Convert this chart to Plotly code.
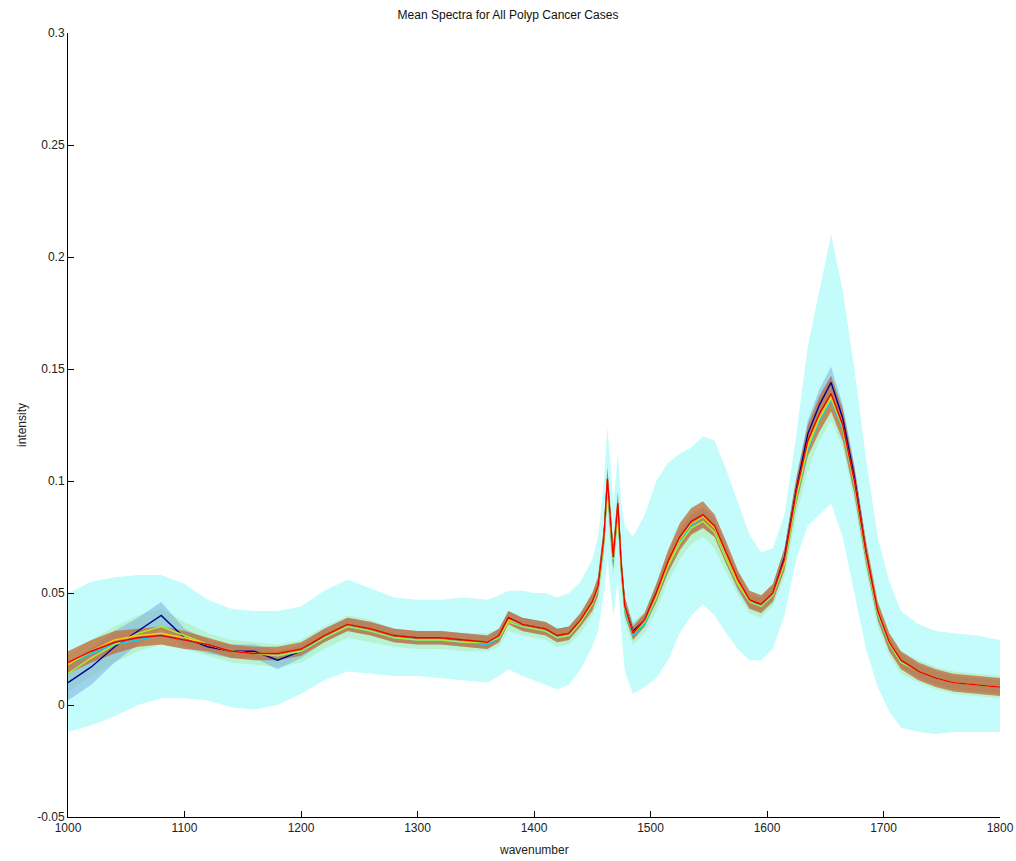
import plotly.graph_objects as go

WN = [1000, 1020, 1040, 1060, 1080, 1100, 1120, 1140, 1160, 1180, 1200, 1220, 1240, 1260, 1280,
      1300, 1320, 1340, 1360, 1370, 1378, 1390, 1400, 1410, 1420, 1430, 1440, 1450, 1455, 1460,
      1463, 1466, 1468, 1470, 1472, 1475, 1478, 1485, 1495, 1505, 1515, 1525, 1535, 1545, 1555,
      1565, 1575, 1585, 1595, 1605, 1615, 1625, 1635, 1645, 1655, 1665, 1675, 1685, 1695, 1705,
      1715, 1730, 1745, 1760, 1780, 1800]

RED = [0.019, 0.024, 0.028, 0.030, 0.031, 0.029, 0.027, 0.024, 0.023, 0.023, 0.025, 0.031, 0.036, 0.034, 0.031,
       0.030, 0.030, 0.029, 0.028, 0.031, 0.039, 0.036, 0.035, 0.034, 0.031, 0.032, 0.038, 0.046, 0.053, 0.075,
       0.101, 0.078, 0.066, 0.078, 0.090, 0.062, 0.044, 0.032, 0.038, 0.050, 0.064, 0.075, 0.082, 0.085, 0.080,
       0.068, 0.056, 0.047, 0.045, 0.050, 0.065, 0.095, 0.118, 0.130, 0.139, 0.125, 0.100, 0.068, 0.042, 0.028,
       0.020, 0.015, 0.012, 0.010, 0.009, 0.008]

DARKBLUE = [0.010, 0.017, 0.026, 0.033, 0.040, 0.030, 0.026, 0.024, 0.024, 0.020, 0.024, 0.031, 0.036, 0.034, 0.031,
            0.030, 0.030, 0.029, 0.028, 0.031, 0.039, 0.036, 0.035, 0.034, 0.031, 0.032, 0.038, 0.046, 0.053, 0.074,
            0.099, 0.077, 0.066, 0.077, 0.088, 0.061, 0.044, 0.033, 0.038, 0.050, 0.063, 0.074, 0.081, 0.084, 0.079,
            0.067, 0.055, 0.046, 0.045, 0.050, 0.066, 0.096, 0.121, 0.134, 0.144, 0.128, 0.102, 0.068, 0.041, 0.027,
            0.020, 0.015, 0.012, 0.010, 0.009, 0.008]

CYANLINE = [0.018, 0.023, 0.027, 0.029, 0.031, 0.029, 0.027, 0.024, 0.023, 0.022, 0.024, 0.030, 0.035, 0.033, 0.030,
            0.029, 0.029, 0.028, 0.027, 0.030, 0.038, 0.035, 0.034, 0.033, 0.030, 0.031, 0.037, 0.045, 0.052, 0.074,
            0.100, 0.076, 0.064, 0.077, 0.089, 0.060, 0.042, 0.031, 0.036, 0.048, 0.062, 0.073, 0.080, 0.084, 0.079,
            0.066, 0.054, 0.046, 0.044, 0.049, 0.063, 0.092, 0.114, 0.127, 0.136, 0.123, 0.098, 0.066, 0.040, 0.027,
            0.019, 0.015, 0.012, 0.010, 0.009, 0.008]

GREEN = [0.014, 0.021, 0.027, 0.032, 0.035, 0.031, 0.027, 0.024, 0.023, 0.022, 0.024, 0.030, 0.035, 0.033, 0.030,
         0.029, 0.029, 0.028, 0.028, 0.030, 0.037, 0.035, 0.034, 0.033, 0.030, 0.031, 0.037, 0.045, 0.052, 0.073,
         0.098, 0.076, 0.065, 0.076, 0.087, 0.060, 0.043, 0.032, 0.037, 0.048, 0.062, 0.072, 0.079, 0.082, 0.077,
         0.065, 0.054, 0.046, 0.044, 0.049, 0.063, 0.092, 0.115, 0.128, 0.137, 0.124, 0.099, 0.067, 0.041, 0.027,
         0.019, 0.015, 0.012, 0.010, 0.009, 0.008]

YELLOW = [0.018, 0.024, 0.029, 0.031, 0.032, 0.030, 0.027, 0.024, 0.023, 0.023, 0.025, 0.031, 0.036, 0.034, 0.031,
          0.030, 0.030, 0.029, 0.028, 0.031, 0.038, 0.036, 0.035, 0.034, 0.031, 0.032, 0.038, 0.046, 0.053, 0.074,
          0.100, 0.077, 0.066, 0.077, 0.089, 0.061, 0.044, 0.032, 0.038, 0.049, 0.063, 0.074, 0.081, 0.084, 0.079,
          0.067, 0.055, 0.047, 0.045, 0.050, 0.064, 0.094, 0.116, 0.129, 0.138, 0.124, 0.099, 0.067, 0.041, 0.028,
          0.020, 0.015, 0.012, 0.010, 0.009, 0.008]

CYAN_HI = [0.050, 0.055, 0.057, 0.058, 0.058, 0.054, 0.047, 0.043, 0.042, 0.042, 0.044, 0.051, 0.056, 0.052, 0.048,
           0.047, 0.047, 0.048, 0.047, 0.049, 0.051, 0.051, 0.050, 0.050, 0.048, 0.050, 0.055, 0.065, 0.075, 0.100,
           0.124, 0.105, 0.090, 0.100, 0.112, 0.090, 0.080, 0.075, 0.085, 0.100, 0.108, 0.112, 0.115, 0.120, 0.118,
           0.105, 0.090, 0.076, 0.068, 0.070, 0.085, 0.120, 0.160, 0.185, 0.210, 0.185, 0.150, 0.110, 0.075, 0.055,
           0.042, 0.036, 0.033, 0.032, 0.031, 0.029]

CYAN_LO = [-0.012, -0.009, -0.005, 0.000, 0.003, 0.003, 0.002, -0.001, -0.002, 0.000, 0.005, 0.011, 0.015, 0.014, 0.013,
           0.013, 0.012, 0.011, 0.010, 0.013, 0.016, 0.013, 0.011, 0.009, 0.007, 0.009, 0.016, 0.026, 0.033, 0.050,
           0.065, 0.050, 0.040, 0.048, 0.055, 0.032, 0.015, 0.005, 0.008, 0.012, 0.020, 0.032, 0.040, 0.045, 0.040,
           0.032, 0.025, 0.020, 0.020, 0.025, 0.040, 0.065, 0.080, 0.085, 0.090, 0.075, 0.050, 0.025, 0.008, -0.003,
           -0.010, -0.012, -0.013, -0.012, -0.012, -0.012]

GREEN_SD = [0.008, 0.008, 0.008, 0.008, 0.008, 0.006, 0.005, 0.005, 0.005, 0.005, 0.005, 0.005, 0.005, 0.005, 0.004,
            0.004, 0.004, 0.004, 0.004, 0.004, 0.004, 0.004, 0.004, 0.004, 0.004, 0.004, 0.005, 0.005, 0.006, 0.008,
            0.010, 0.009, 0.008, 0.009, 0.009, 0.008, 0.006, 0.005, 0.005, 0.006, 0.007, 0.007, 0.007, 0.007, 0.007,
            0.006, 0.005, 0.005, 0.005, 0.005, 0.006, 0.008, 0.010, 0.010, 0.010, 0.009, 0.008, 0.007, 0.006, 0.005,
            0.005, 0.005, 0.005, 0.005, 0.005, 0.005]

BLUE_SD = [0.008, 0.008, 0.007, 0.006, 0.006, 0.004, 0.003, 0.003, 0.003, 0.004, 0.003, 0.003, 0.003, 0.003, 0.003,
           0.003, 0.003, 0.003, 0.003, 0.003, 0.003, 0.003, 0.003, 0.003, 0.003, 0.003, 0.003, 0.003, 0.004, 0.005,
           0.006, 0.005, 0.005, 0.005, 0.005, 0.005, 0.004, 0.003, 0.003, 0.004, 0.004, 0.004, 0.004, 0.004, 0.004,
           0.004, 0.004, 0.003, 0.003, 0.003, 0.004, 0.005, 0.006, 0.007, 0.007, 0.006, 0.005, 0.004, 0.003, 0.003,
           0.003, 0.003, 0.003, 0.003, 0.003, 0.003]

RED_SD = [0.005, 0.005, 0.005, 0.004, 0.004, 0.004, 0.003, 0.003, 0.003, 0.003, 0.003, 0.003, 0.003, 0.003, 0.003,
          0.003, 0.003, 0.003, 0.003, 0.003, 0.003, 0.003, 0.003, 0.003, 0.003, 0.003, 0.003, 0.004, 0.004, 0.005,
          0.005, 0.005, 0.005, 0.005, 0.005, 0.005, 0.004, 0.003, 0.003, 0.004, 0.005, 0.006, 0.006, 0.006, 0.005,
          0.005, 0.004, 0.004, 0.004, 0.004, 0.005, 0.006, 0.007, 0.008, 0.008, 0.007, 0.006, 0.005, 0.004, 0.004,
          0.004, 0.004, 0.004, 0.004, 0.004, 0.004]

Y_TICKS = [-0.05, 0, 0.05, 0.1, 0.15, 0.2, 0.25, 0.3]
Y_TICKTEXT = ["-0.05", "0", "0.05", "0.1", "0.15", "0.2", "0.25", "0.3"]
X_TICKS = [1000, 1100, 1200, 1300, 1400, 1500, 1600, 1700, 1800]

fig = go.Figure()


def band(hi, lo, color):
    fig.add_trace(go.Scatter(x=WN + WN[::-1], y=list(hi) + list(lo)[::-1], fill="toself",
                             fillcolor=color, line=dict(width=0), mode="lines",
                             hoverinfo="skip", showlegend=False))


band(CYAN_HI, CYAN_LO, "rgb(196,252,252)")
band([g + s for g, s in zip(GREEN, GREEN_SD)], [g - s for g, s in zip(GREEN, GREEN_SD)],
     "rgba(175,235,180,0.6)")
band([b + s for b, s in zip(DARKBLUE, BLUE_SD)], [b - s for b, s in zip(DARKBLUE, BLUE_SD)],
     "rgba(110,160,220,0.45)")
band([r + s for r, s in zip(RED, RED_SD)], [r - s for r, s in zip(RED, RED_SD)],
     "rgba(195,105,55,0.75)")

lines = [
    (DARKBLUE, "rgb(0,0,150)"),
    (CYANLINE, "rgb(0,210,255)"),
    (GREEN, "rgb(160,240,60)"),
    (YELLOW, "rgb(255,200,0)"),
    (RED, "rgb(240,0,0)"),
]
for ys, c in lines:
    fig.add_trace(go.Scatter(x=WN, y=ys, mode="lines", line=dict(color=c, width=1.4),
                             showlegend=False))

fig.update_layout(
    width=1016, height=861,
    margin=dict(l=68, r=16, t=33, b=44),
    paper_bgcolor="white", plot_bgcolor="white",
    font=dict(family="Liberation Sans, Arial, sans-serif", size=12, color="#222"),
    title=dict(text="Mean Spectra for All Polyp Cancer Cases", x=0.5, xanchor="center",
               y=1 - 15 / 861, yanchor="middle", font=dict(size=12, color="#111")),
    showlegend=False,
    annotations=[
        dict(text="intensity", xref="paper", yref="paper", x=0, y=0.5, xshift=-46,
             xanchor="center", yanchor="middle", textangle=-90, showarrow=False,
             font=dict(size=12, color="#222")),
        dict(text="wavenumber", xref="paper", yref="paper", x=0.5, y=0, yshift=-33,
             xanchor="center", yanchor="middle", showarrow=False,
             font=dict(size=12, color="#222")),
    ],
)
fig.update_xaxes(range=[1000, 1800], tickvals=X_TICKS, showline=True, linecolor="black",
                 linewidth=1, mirror=False, ticks="inside", ticklen=6, tickcolor="black",
                 showgrid=False, zeroline=False, automargin=False)
fig.update_yaxes(range=[-0.05, 0.3], tickvals=Y_TICKS, ticktext=Y_TICKTEXT, showline=True,
                 linecolor="black", linewidth=1, mirror=False, ticks="inside", ticklen=6,
                 tickcolor="black", showgrid=False, zeroline=False, automargin=False)

fig.write_html("out.html", config={"displayModeBar": False},
               post_script="document.body.style.margin='0';document.body.style.overflow='hidden';")
